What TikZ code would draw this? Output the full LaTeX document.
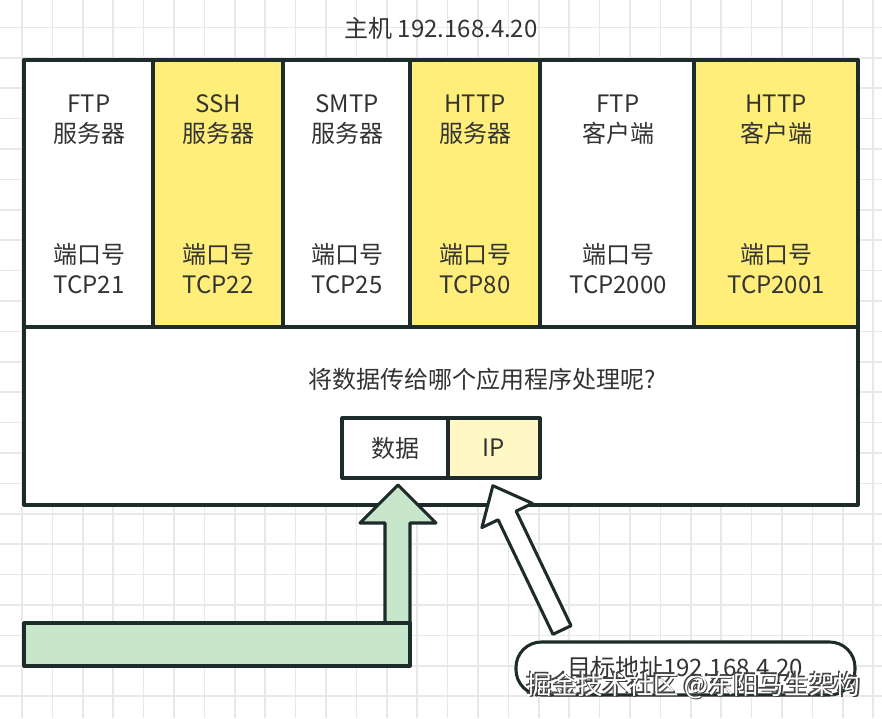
\documentclass[tikz,border=0pt]{standalone}
\usepackage{fontspec}
\setmainfont{Noto Sans CJK SC}
\usetikzlibrary{positioning,fit}

\definecolor{linedark}{HTML}{1E2B2B}
\definecolor{textdark}{HTML}{333333}
\definecolor{gridgray}{HTML}{E8E8E8}
\definecolor{portyellow}{HTML}{FFEF7A}
\definecolor{ipyellow}{HTML}{FFF8C4}
\definecolor{arrowgreen}{HTML}{C8E6C9}

\begin{document}
\begin{tikzpicture}[x=0.75pt, y=-0.75pt,
    every node/.style={font=\fontsize{18}{22.5}\selectfont, text=textdark},
    box/.style={draw=linedark, line width=2.3pt, line join=round},
    colbox/.style={box, inner sep=0pt},
    lbl/.style={align=center},
    wmark/.style={font=\fontsize{19}{22}\selectfont},
    gridline/.style={gridgray, line width=1.2pt}]
    \fill[white] (0,0) rectangle (882,718);
    \useasboundingbox (0,0) rectangle (882,718);

    % background grid
    \foreach \i in {0,...,28} \draw[gridline] ({22+30.4*\i},0) -- ({22+30.4*\i},718);
    \foreach \j in {0,...,23} \draw[gridline] (0,{-3+30.4*\j}) -- (882,{-3+30.4*\j});

    \node (host) at (441, 28) {主机 192.168.4.20};
    \node[colbox, fill=white, fit={(24,60) (858,505)}] (hostbox) {};

    % ports
    \node[colbox, fill=white, fit={(24,60) (153,327)}] (ftps) {};
    \node[colbox, fill=portyellow, fit={(153,60) (283,327)}] (sshs) {};
    \node[colbox, fill=white, fit={(283,60) (410,327)}] (smtps) {};
    \node[colbox, fill=portyellow, fit={(410,60) (540,327)}] (https) {};
    \node[colbox, fill=white, fit={(540,60) (694,327)}] (ftpc) {};
    \node[colbox, fill=portyellow, fit={(694,60) (858,327)}] (httpc) {};

    \node[lbl] (ftpsname) at (89, 120) {FTP\\服务器};
    \node[lbl] (sshsname) at (218, 120) {SSH\\服务器};
    \node[lbl] (smtpsname) at (347, 120) {SMTP\\服务器};
    \node[lbl] (httpsname) at (475, 120) {HTTP\\服务器};
    \node[lbl] (ftpcname) at (618, 120) {FTP\\客户端};
    \node[lbl] (httpcname) at (776, 120) {HTTP\\客户端};

    \node[lbl] (ftpsport) at (89, 269) {端口号\\TCP21};
    \node[lbl] (sshsport) at (218, 269) {端口号\\TCP22};
    \node[lbl] (smtpsport) at (347, 269) {端口号\\TCP25};
    \node[lbl] (httpsport) at (475, 269) {端口号\\TCP80};
    \node[lbl] (ftpcport) at (618, 269) {端口号\\TCP2000};
    \node[lbl] (httpcport) at (776, 269) {端口号\\TCP2001};

    \node (question) at (482, 379) {将数据传给哪个应用程序处理呢?};

    % packet
    \node[colbox, fill=white, fit={(342,418) (448,478)}] (data) {};
    \node[colbox, fill=ipyellow, fit={(448,418) (540,478)}] (ip) {};
    \node at (data.center) {数据};
    \node at (ip.center) {IP};

    % green arrow
    \draw[box, fill=arrowgreen] (385,623) -- (385,523) -- (360,523) -- (398,485)
        -- (436,523) -- (410,523) -- (410,623) -- cycle;
    \draw[box, fill=arrowgreen] (24,623) rectangle (410,666);

    % white arrow
    \begin{scope}[shift={(562,630)}, rotate=25.6]
        \draw[box, fill=white] (-10,0) -- (-10,-127) -- (-28,-127) -- (0,-160)
            -- (28,-127) -- (10,-127) -- (10,0) -- cycle;
    \end{scope}

    \node[colbox, fill=white, rounded corners=19pt, fit={(516,642) (855,695)}] (dest) {};
    \node (destlabel) at (685, 667) {目标地址192.168.4.20};

    % watermark
    \node[wmark, text=darkgray] (wm1) at (695, 687) {掘金技术社区 @东阳马生架构};
    \node[wmark, text=darkgray] (wm2) at (692, 684) {掘金技术社区 @东阳马生架构};
    \node[wmark, text=white] (wm) at (693.5, 685.5) {掘金技术社区 @东阳马生架构};
\end{tikzpicture}
\end{document}
